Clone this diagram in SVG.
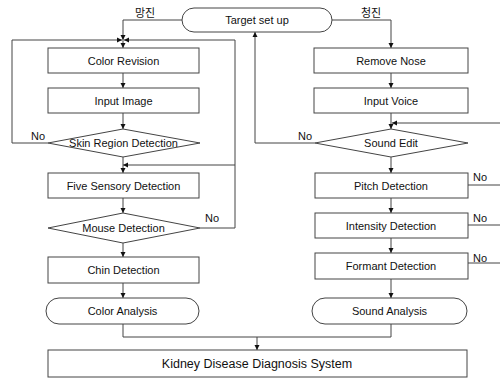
<svg xmlns="http://www.w3.org/2000/svg" width="500" height="379" viewBox="0 0 500 379">
<style>
.b{fill:#fff;stroke:#444;stroke-width:1}
.t{font-family:"Liberation Sans",Arial,sans-serif;font-size:11px;fill:#111;text-anchor:middle;dominant-baseline:central}
.l{font-family:"Liberation Sans",Arial,sans-serif;font-size:11px;fill:#111}
.k{font-family:"Noto Sans CJK KR",sans-serif;font-size:11px;fill:#111;text-anchor:middle}
.c{fill:none;stroke:#444;stroke-width:1}
.a{marker-end:url(#ah)}
</style>
<defs>
<marker id="ah" markerWidth="6" markerHeight="6" refX="5" refY="3" orient="auto" markerUnits="userSpaceOnUse">
<path d="M0,0.5 L5,3 L0,5.5 Z" fill="#111"/>
</marker>
</defs>
<g id="connectors">
<path class="c a" d="M182,20 H123 V40"/>
<path class="c a" d="M123,40 V48"/>
<path class="c a" d="M48,143 H12 V40 H122"/>
<path class="c a" d="M200,228 H235 V40 H124"/>
<path class="c a" d="M235,165 H123"/>
<path class="c a" d="M123,73 V88"/>
<path class="c a" d="M123,113 V129"/>
<path class="c a" d="M123,157 V173"/>
<path class="c a" d="M123,198 V213"/>
<path class="c a" d="M123,243 V257"/>
<path class="c a" d="M123,283 V298"/>
<path class="c" d="M123,324 V337 H391 V324"/>
<path class="c a" d="M257,337 V350"/>
<path class="c a" d="M332,20 H391 V48"/>
<path class="c a" d="M391,73 V88"/>
<path class="c a" d="M391,113 V129"/>
<path class="c a" d="M500,123 H392"/>
<path class="c a" d="M315,143 H255 V32"/>
<path class="c a" d="M391,157 V173"/>
<path class="c" d="M468,185 H500"/>
<path class="c a" d="M391,198 V213"/>
<path class="c" d="M468,225 H500"/>
<path class="c a" d="M391,238 V253"/>
<path class="c" d="M468,263 H500"/>
<path class="c a" d="M391,279 V298"/>
</g>
<g id="labels">
<text class="k" x="145" y="17">망진</text>
<text class="k" x="371" y="17">청진</text>
<text class="l" x="31" y="140">No</text>
<text class="l" x="205" y="222">No</text>
<text class="l" x="298" y="140">No</text>
<text class="l" x="473" y="181">No</text>
<text class="l" x="473" y="222">No</text>
<text class="l" x="473" y="262">No</text>
</g>
<g id="target"><rect class="b" x="182" y="8" width="150" height="24" rx="12"/><text class="t" x="257" y="20">Target set up</text></g>
<g id="color-revision"><rect class="b" x="48" y="48" width="151" height="25"/><text class="t" x="123.5" y="60.5">Color Revision</text></g>
<g id="input-image"><rect class="b" x="48" y="88" width="151" height="25"/><text class="t" x="123.5" y="100.5">Input Image</text></g>
<g id="skin"><polygon class="b" points="48,143 123,129 200,143 123,157"/><text class="t" x="123.5" y="143">Skin Region Detection</text></g>
<g id="five-sensory"><rect class="b" x="48" y="173" width="151" height="25"/><text class="t" x="123.5" y="185.5">Five Sensory Detection</text></g>
<g id="mouse"><polygon class="b" points="48,228 123,213 200,228 123,243"/><text class="t" x="123.5" y="228">Mouse Detection</text></g>
<g id="chin"><rect class="b" x="48" y="257" width="151" height="26"/><text class="t" x="123.5" y="270">Chin Detection</text></g>
<g id="color-analysis"><rect class="b" x="46" y="298" width="153" height="26" rx="13"/><text class="t" x="122.5" y="311">Color Analysis</text></g>
<g id="remove-nose"><rect class="b" x="314" y="48" width="154" height="25"/><text class="t" x="391" y="60.5">Remove Nose</text></g>
<g id="input-voice"><rect class="b" x="314" y="88" width="154" height="25"/><text class="t" x="391" y="100.5">Input Voice</text></g>
<g id="sound-edit"><polygon class="b" points="315,143 391,129 468,143 391,157"/><text class="t" x="391" y="143">Sound Edit</text></g>
<g id="pitch"><rect class="b" x="315" y="173" width="153" height="25"/><text class="t" x="391" y="185.5">Pitch Detection</text></g>
<g id="intensity"><rect class="b" x="315" y="213" width="153" height="25"/><text class="t" x="391" y="225.5">Intensity Detection</text></g>
<g id="formant"><rect class="b" x="315" y="253" width="153" height="26"/><text class="t" x="391" y="266">Formant Detection</text></g>
<g id="sound-analysis"><rect class="b" x="312" y="298" width="155" height="26" rx="13"/><text class="t" x="389.5" y="311">Sound Analysis</text></g>
<g id="kidney"><rect class="b" x="48" y="350" width="419" height="27"/><text class="t" x="257" y="363.5" style="font-size:12.5px">Kidney Disease Diagnosis System</text></g>
</svg>
